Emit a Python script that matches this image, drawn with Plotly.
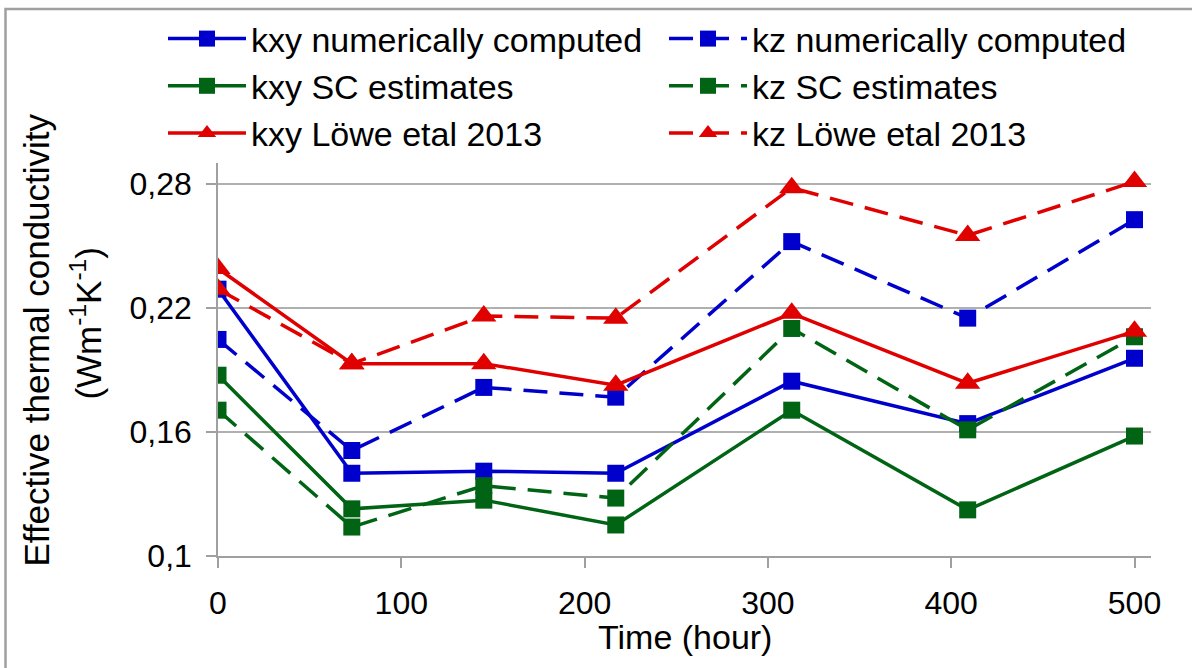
import plotly.graph_objects as go

# ---- data ----
time_h = [0, 73, 145, 217, 313, 409, 500]
kxy_num = [0.229, 0.140, 0.141, 0.140, 0.1845, 0.164, 0.1956]
kz_num = [0.2047, 0.151, 0.1815, 0.1768, 0.252, 0.215, 0.2626]
kxy_sc = [0.1874, 0.1228, 0.127, 0.115, 0.1705, 0.1223, 0.158]
kz_sc = [0.1705, 0.114, 0.134, 0.128, 0.210, 0.161, 0.206]
kxy_lowe = [0.239, 0.193, 0.193, 0.1826, 0.2173, 0.1835, 0.2086]
kz_lowe = [0.229, 0.193, 0.216, 0.215, 0.278, 0.255, 0.281]

y_ticks = [0.1, 0.16, 0.22, 0.28]
y_tick_text = ["0,1", "0,16", "0,22", "0,28"]
x_ticks = [0, 100, 200, 300, 400, 500]

BLUE = "#0000CC"
GREEN = "#006414"
RED = "#E00000"
FONT = "Liberation Sans, Arial, sans-serif"
FS_TICK = 32
FS_LEG = 34
FS_TITLE = 34

series = [
    ("kxy numerically computed", kxy_num, BLUE, "solid", "square"),
    ("kz numerically computed", kz_num, BLUE, "24px,12px", "square"),
    ("kxy SC estimates", kxy_sc, GREEN, "solid", "square"),
    ("kz SC estimates", kz_sc, GREEN, "24px,12px", "square"),
    ("kxy Löwe etal 2013", kxy_lowe, RED, "solid", "triangle-up"),
    ("kz Löwe etal 2013", kz_lowe, RED, "24px,12px", "triangle-up"),
]

fig = go.Figure()
for name, vals, col, dash, sym in series:
    fig.add_trace(go.Scatter(
        x=time_h, y=vals, name=name, mode="lines+markers",
        line=dict(color=col, width=3.5, dash=dash),
        marker=dict(symbol=sym, color=col, size=17 if sym == "square" else 22,
                    line=dict(width=0)),
    ))

W, H = 1192, 668
L, R, T, B = 218, 41, 162, 112
pw, ph = W - L - R, H - T - B


def px(x):
    return (x - L) / pw


def py(y):
    return (H - B - y) / ph


fig.update_layout(
    width=W, height=H,
    margin=dict(l=L, r=R, t=T, b=B, pad=0),
    paper_bgcolor="white", plot_bgcolor="white",
    font=dict(family=FONT, size=FS_TICK, color="black"),
    showlegend=True,
    legend=dict(
        orientation="h", x=px(163), y=py(10), xanchor="left", yanchor="top",
        entrywidth=408, entrywidthmode="pixels", itemwidth=78,
        bgcolor="rgba(255,255,255,0)", font=dict(size=FS_LEG),
        tracegroupgap=0, traceorder="normal",
    ),
    xaxis=dict(
        range=[0, 509], tickvals=x_ticks, ticks="outside", ticklen=10,
        tickcolor="#A0A0A0", tickwidth=1.5, showgrid=False, zeroline=False,
        showline=True, linecolor="#A0A0A0", linewidth=1.5,
        tickfont=dict(size=FS_TICK), ticklabelstandoff=8,
    ),
    yaxis=dict(
        range=[0.1, 0.29], tickvals=y_ticks, ticktext=y_tick_text,
        ticks="outside", ticklen=10, tickcolor="#A0A0A0", tickwidth=1.5,
        showgrid=True, gridcolor="#B0B0B0", gridwidth=1.5, zeroline=False,
        showline=True, linecolor="#A0A0A0", linewidth=1.5,
        tickfont=dict(size=FS_TICK), ticklabelstandoff=8,
    ),
    annotations=[
        dict(text="Time (hour)", xref="paper", yref="paper", x=0.5, y=py(637),
             xanchor="center", yanchor="middle", showarrow=False,
             font=dict(size=FS_TITLE)),
        dict(text="Effective thermal conductivity", xref="paper", yref="paper",
             x=px(37), y=py(340), xanchor="center", yanchor="middle",
             textangle=-90, showarrow=False, font=dict(size=35)),
        dict(text="(Wm<sup>-1</sup>K<sup>-1</sup>)", xref="paper", yref="paper",
             x=px(86), y=py(323), xanchor="center", yanchor="middle",
             textangle=-90, showarrow=False, font=dict(size=35)),
    ],
    shapes=[
        dict(type="rect", xref="paper", yref="paper",
             x0=px(5.5), y0=py(700), x1=px(1220), y1=py(7.5),
             line=dict(color="#A0A0A0", width=2.5), fillcolor="rgba(0,0,0,0)",
             layer="below"),
    ],
)

fig.write_html("out.html")
